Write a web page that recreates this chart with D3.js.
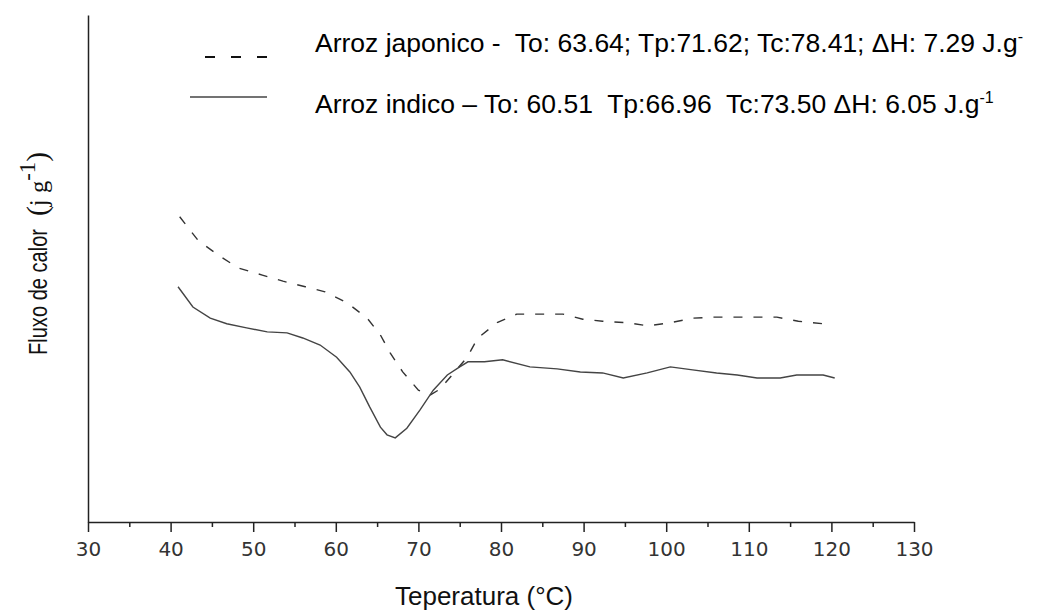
<!DOCTYPE html>
<html>
<head>
<meta charset="utf-8">
<script src="https://cdn.jsdelivr.net/npm/d3@7"></script>
<style>
  body { margin: 0; background: #fff; }
  text { white-space: pre; }
</style>
</head>
<body>
<script>
// temperature (°C) and heat flow (arbitrary units)
var tempJaponico = [41.1, 43.3, 45.7, 48.2, 51.1, 53.6, 56.3, 58.7, 61.4, 63.8, 65.4, 66.6, 68.1, 70.0, 71.4, 72.6, 74.4, 75.9, 77.2, 79.6, 81.9, 84.7, 87.5, 89.9, 92.3, 95.3, 97.8, 100.5, 103.2, 105.7, 108.6, 111.0, 113.4, 116.0, 119.0, 119.6];
var fluxJaponico = [60.2, 55.6, 52.7, 50.1, 48.7, 47.5, 46.4, 45.4, 43.2, 40.2, 36.9, 33.3, 29.6, 26.0, 25.0, 26.2, 29.6, 32.5, 36.3, 39.4, 41.0, 41.0, 41.0, 40.0, 39.6, 39.3, 38.7, 39.3, 40.2, 40.4, 40.4, 40.4, 40.4, 39.6, 39.1, 38.9];

var tempIndico = [40.9, 42.7, 44.8, 46.8, 49.2, 51.7, 54.1, 56.0, 58.1, 60.1, 61.7, 62.9, 64.1, 65.4, 66.2, 67.2, 68.6, 70.2, 71.8, 73.5, 75.0, 76.0, 78.0, 80.2, 83.5, 86.8, 89.6, 92.3, 94.8, 97.7, 100.5, 103.2, 106.1, 108.6, 111.0, 113.8, 115.8, 119.0, 120.4];
var fluxIndico = [46.4, 42.4, 40.2, 39.1, 38.3, 37.5, 37.3, 36.3, 34.9, 32.5, 29.6, 26.6, 22.7, 18.7, 17.2, 16.6, 18.5, 22.1, 26.0, 29.0, 30.6, 31.6, 31.6, 32.0, 30.6, 30.2, 29.6, 29.4, 28.4, 29.4, 30.6, 30.0, 29.4, 29.0, 28.4, 28.4, 29.0, 29.0, 28.4];

var xTicks = [30, 40, 50, 60, 70, 80, 90, 100, 110, 120, 130];
var xMinorTicks = [35, 45, 55, 65, 75, 85, 95, 105, 115, 125];

var legendJaponico = "Arroz japonico -  To: 63.64; Tp:71.62; Tc:78.41; ΔH: 7.29 J.g";
var legendIndico = "Arroz indico – To: 60.51  Tp:66.96  Tc:73.50 ΔH: 6.05 J.g";

window.onload = function() {
    var w = 1039, h = 611;

    var svg = d3.select("body").append("svg")
        .attr("width", w)
        .attr("height", h);

    // scales
    var x = d3.scaleLinear().domain([30, 130]).range([88, 914]);
    var y = d3.scaleLinear().domain([0, 100]).range([522, 15]);

    // x axis with major and minor ticks
    var xAxis = svg.append("g")
        .attr("transform", "translate(0,522)")
        .call(d3.axisBottom(x).tickValues(xTicks).tickSize(10).tickSizeOuter(0).tickPadding(10));
    xAxis.select(".domain").attr("stroke", "#222").attr("stroke-width", 1.5);
    xAxis.selectAll(".tick line").attr("stroke", "#222").attr("stroke-width", 1.5);
    xAxis.selectAll(".tick text")
        .attr("fill", "#333")
        .style("font-family", "'DejaVu Sans', Verdana, sans-serif")
        .style("font-size", "20px");

    var xMinor = svg.append("g")
        .attr("transform", "translate(0,522)")
        .call(d3.axisBottom(x).tickValues(xMinorTicks).tickSize(5).tickFormat(""));
    xMinor.select(".domain").remove();
    xMinor.selectAll(".tick line").attr("stroke", "#222").attr("stroke-width", 1.5);

    // y axis: plain line, no ticks
    var yAxis = svg.append("g")
        .attr("transform", "translate(88,0)")
        .call(d3.axisLeft(y).tickValues([]).tickSizeOuter(0));
    yAxis.select(".domain").attr("stroke", "#222").attr("stroke-width", 1.5);

    // curves
    var line = d3.line()
        .x(function(d) { return x(d[0]); })
        .y(function(d) { return y(d[1]); });

    var japonico = d3.zip(tempJaponico, fluxJaponico);
    var indico = d3.zip(tempIndico, fluxIndico);

    svg.append("path")
        .datum(japonico)
        .attr("d", line)
        .attr("fill", "none")
        .attr("stroke", "#333")
        .attr("stroke-width", 1.4)
        .attr("stroke-dasharray", "9,11");

    svg.append("path")
        .datum(indico)
        .attr("d", line)
        .attr("fill", "none")
        .attr("stroke", "#444")
        .attr("stroke-width", 1.4);

    // legend
    var legend = svg.append("g");
    legend.append("line")
        .attr("x1", 205).attr("x2", 267)
        .attr("y1", 57).attr("y2", 57)
        .attr("stroke", "#111")
        .attr("stroke-width", 2)
        .attr("stroke-dasharray", "10,16");
    legend.append("line")
        .attr("x1", 190).attr("x2", 267)
        .attr("y1", 97).attr("y2", 97)
        .attr("stroke", "#444")
        .attr("stroke-width", 1.6);

    var t1 = legend.append("text")
        .attr("x", 315).attr("y", 52)
        .style("font-family", "Arial, 'Liberation Sans', sans-serif")
        .style("font-size", "26.5px")
        .attr("fill", "#000")
        .text(legendJaponico);
    t1.append("tspan").attr("dy", -10).style("font-size", "16px").text("-");

    var t2 = legend.append("text")
        .attr("x", 315).attr("y", 113)
        .style("font-family", "Arial, 'Liberation Sans', sans-serif")
        .style("font-size", "26.5px")
        .attr("fill", "#000")
        .text(legendIndico);
    t2.append("tspan").attr("dy", -10).style("font-size", "16px").text("-1");

    // axis titles
    svg.append("text")
        .attr("x", 484).attr("y", 605)
        .attr("text-anchor", "middle")
        .style("font-family", "Arial, 'Liberation Sans', sans-serif")
        .style("font-size", "26px")
        .attr("fill", "#111")
        .text("Teperatura (°C)");

    var yTitle = svg.append("g")
        .attr("transform", "translate(47,355) rotate(-90)");
    yTitle.append("text")
        .attr("x", 0).attr("y", 0)
        .attr("textLength", 126)
        .attr("lengthAdjust", "spacingAndGlyphs")
        .style("font-family", "Arial, 'Liberation Sans', sans-serif")
        .style("font-size", "25px")
        .attr("fill", "#111")
        .text("Fluxo de calor");
    var yUnit = yTitle.append("text")
        .attr("x", 139).attr("y", 0)
        .attr("textLength", 64)
        .attr("lengthAdjust", "spacingAndGlyphs")
        .style("font-family", "'Liberation Serif', 'Times New Roman', serif")
        .attr("fill", "#111");
    yUnit.append("tspan").style("font-size", "30px").text("(");
    yUnit.append("tspan").style("font-size", "25px").text("j g");
    yUnit.append("tspan").attr("dy", -12).style("font-size", "23px").text("-1");
    yUnit.append("tspan").attr("dy", 12).style("font-size", "30px").text(")");
};
</script>
</body>
</html>
